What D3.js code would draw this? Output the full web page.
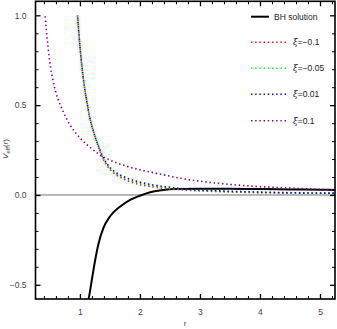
<!DOCTYPE html>
<html>
<head>
<meta charset="utf-8">
<script src="https://cdn.jsdelivr.net/npm/d3@7"></script>
<style>
  body { margin: 0; background: #fff; }
  text { font-family: "Liberation Sans", Arial, sans-serif; }
</style>
</head>
<body>
<div class="canvas"></div>
<script>
// data
const rBH = [1.13, 1.15, 1.195, 1.25, 1.305, 1.39, 1.5, 1.667, 1.83, 2.0, 2.17, 2.39, 2.61, 3.0, 3.5, 4.0, 4.5, 5.0, 5.25];
const vBH = [-0.6, -0.57, -0.48, -0.37, -0.278, -0.185, -0.12, -0.065, -0.028, -0.004, 0.015, 0.028, 0.033, 0.035, 0.034, 0.033, 0.031, 0.029, 0.028];

const rXi = [0.96, 0.983, 1.005, 1.033, 1.067, 1.11, 1.155, 1.22, 1.305, 1.39, 1.47, 1.58, 1.72, 1.97, 2.22, 2.5, 2.72, 3.3, 4.0, 4.6, 5.25];
const vRed   = [1.0, 0.9, 0.81, 0.715, 0.622, 0.53, 0.445, 0.36, 0.272, 0.2, 0.155, 0.118, 0.09, 0.06, 0.045, 0.034, 0.028, 0.019, 0.013, 0.011, 0.009];
const vGreen = [1.0, 0.9, 0.81, 0.715, 0.622, 0.53, 0.445, 0.36, 0.274, 0.203, 0.16, 0.124, 0.096, 0.067, 0.05, 0.038, 0.031, 0.021, 0.0145, 0.0115, 0.0095];
const vBlue  = [1.0, 0.9, 0.81, 0.715, 0.622, 0.53, 0.445, 0.36, 0.276, 0.207, 0.165, 0.13, 0.103, 0.074, 0.056, 0.043, 0.034, 0.023, 0.016, 0.012, 0.01];

const rPurple = [0.42, 0.44, 0.47, 0.5, 0.55, 0.6, 0.65, 0.7, 0.75, 0.83, 0.92, 1.0, 1.17, 1.33, 1.55, 1.75, 2.0, 2.33, 2.72, 3.28, 3.83, 4.39, 4.94, 5.25];
const vPurple = [1.0, 0.92, 0.82, 0.735, 0.64, 0.57, 0.52, 0.48, 0.443, 0.392, 0.35, 0.318, 0.265, 0.224, 0.187, 0.163, 0.14, 0.117, 0.09, 0.066, 0.05, 0.04, 0.032, 0.028];

const xTicks = [1, 2, 3, 4, 5];
const yTicks = [-0.5, 0, 0.5, 1.0];
const legendLabels = ['BH solution', '-0.1', '-0.05', '0.01', '0.1'];

const width = 337;
const height = 329;
const margin = { top: 1.3, right: 2, bottom: 30, left: 35.5 };
const graphWidth = width - margin.left - margin.right;
const graphHeight = height - margin.top - margin.bottom;

const svg = d3.select('.canvas')
  .append('svg')
  .attr('width', width)
  .attr('height', height);

const graph = svg.append('g')
  .attr('transform', `translate(${margin.left}, ${margin.top})`);

// scales
const x = d3.scaleLinear().domain([0.26, 5.25]).range([0, graphWidth]);
const y = d3.scaleLinear().domain([1.078, -0.579]).range([0, graphHeight]);

svg.append('defs').append('clipPath')
  .attr('id', 'clip')
  .append('rect')
  .attr('width', graphWidth)
  .attr('height', graphHeight);

// zero line
graph.append('line')
  .attr('x1', 0).attr('x2', graphWidth)
  .attr('y1', y(0)).attr('y2', y(0))
  .attr('stroke', '#333')
  .attr('stroke-width', 0.7);

const line = d3.line()
  .curve(d3.curveMonotoneX)
  .x(d => x(d[0]))
  .y(d => y(d[1]));

const series = [
  { r: rXi, v: vRed, color: '#ff0000' },
  { r: rXi, v: vGreen, color: '#00ff00' },
  { r: rXi, v: vBlue, color: '#0000ff' },
  { r: rPurple, v: vPurple, color: '#800080' }
];

const curves = graph.append('g').attr('clip-path', 'url(#clip)');

curves.append('path')
  .datum(d3.zip(rBH, vBH))
  .attr('fill', 'none')
  .attr('stroke', '#000')
  .attr('stroke-width', 2)
  .attr('d', line);

series.forEach((s, i) => {
  curves.append('path')
    .datum(d3.zip(s.r, s.v))
    .attr('fill', 'none')
    .attr('stroke', s.color)
    .attr('stroke-width', 1.6)
    .attr('stroke-dasharray', '1.4,2.8')
    .attr('stroke-dashoffset', i * 1.1)
    .attr('d', line);
});

// axes (ticks point inward, like a frame)
const minorX = d3.range(0.4, 5.25, 0.2).filter(v => Math.abs(v - Math.round(v)) > 0.01);
const minorY = d3.range(-0.5, 1.08, 0.1).filter(v => Math.abs(v * 2 - Math.round(v * 2)) > 0.01);

const fmtY = d3.format('.1f');

const styleAxis = (g, w) => {
  g.select('.domain').remove();
  g.selectAll('line').attr('stroke', '#000').attr('stroke-width', w);
  g.selectAll('text')
    .attr('fill', '#444')
    .attr('font-size', 8.5);
};

graph.append('g')
  .attr('transform', `translate(0, ${graphHeight})`)
  .call(d3.axisBottom(x).tickValues(xTicks).tickSize(-5).tickPadding(10).tickFormat(d3.format('d')))
  .call(g => styleAxis(g, 1.3));
graph.append('g')
  .attr('transform', `translate(0, ${graphHeight})`)
  .call(d3.axisBottom(x).tickValues(minorX).tickSize(-3).tickFormat(''))
  .call(g => styleAxis(g, 1));
graph.append('g')
  .call(d3.axisTop(x).tickValues(xTicks).tickSize(-5).tickFormat(''))
  .call(g => styleAxis(g, 1.3));
graph.append('g')
  .call(d3.axisTop(x).tickValues(minorX).tickSize(-3).tickFormat(''))
  .call(g => styleAxis(g, 1));

graph.append('g')
  .call(d3.axisLeft(y).tickValues(yTicks).tickSize(-5).tickPadding(9).tickFormat(fmtY))
  .call(g => styleAxis(g, 1.3));
graph.append('g')
  .call(d3.axisLeft(y).tickValues(minorY).tickSize(-3).tickFormat(''))
  .call(g => styleAxis(g, 1));
graph.append('g')
  .attr('transform', `translate(${graphWidth}, 0)`)
  .call(d3.axisRight(y).tickValues(yTicks).tickSize(-5).tickFormat(''))
  .call(g => styleAxis(g, 1.3));
graph.append('g')
  .attr('transform', `translate(${graphWidth}, 0)`)
  .call(d3.axisRight(y).tickValues(minorY).tickSize(-3).tickFormat(''))
  .call(g => styleAxis(g, 1));

// frame
graph.append('rect')
  .attr('width', graphWidth)
  .attr('height', graphHeight)
  .attr('fill', 'none')
  .attr('stroke', '#000')
  .attr('stroke-width', 1.6);

// axis labels
svg.append('text')
  .attr('x', 185)
  .attr('y', 326)
  .attr('text-anchor', 'middle')
  .attr('font-size', 8)
  .attr('fill', '#444')
  .text('r');

const yLabel = svg.append('text')
  .attr('transform', 'translate(8, 149) rotate(-90)')
  .attr('text-anchor', 'middle')
  .attr('font-size', 8)
  .attr('fill', '#444');
yLabel.append('tspan').attr('font-style', 'italic').text('V');
yLabel.append('tspan').attr('font-size', 6).attr('dy', 2).text('eff');
yLabel.append('tspan').attr('dy', -2).text('(');
yLabel.append('tspan').attr('font-style', 'italic').text('r');
yLabel.append('tspan').text(')');

// legend
const legend = svg.append('g');
const legendY = [16.7, 42.3, 68.3, 94.3, 120.7];

legend.append('line')
  .attr('x1', 251).attr('x2', 269)
  .attr('y1', legendY[0]).attr('y2', legendY[0])
  .attr('stroke', '#000')
  .attr('stroke-width', 2);
legend.append('text')
  .attr('x', 274)
  .attr('y', legendY[0] + 3)
  .attr('font-size', 8.5)
  .attr('fill', '#222')
  .text(legendLabels[0]);

series.forEach((s, i) => {
  const ly = legendY[i + 1];
  legend.append('line')
    .attr('x1', 251).attr('x2', 286)
    .attr('y1', ly).attr('y2', ly)
    .attr('stroke', s.color)
    .attr('stroke-width', 1.6)
    .attr('stroke-dasharray', '1.4,2.8');
  const t = legend.append('text')
    .attr('x', 293)
    .attr('y', ly + 3)
    .attr('font-size', 8.5)
    .attr('fill', '#222');
  t.append('tspan').attr('font-style', 'italic').attr('font-family', '"DejaVu Serif", serif').text('ξ');
  t.append('tspan').text('=' + legendLabels[i + 1].replace('-', '\u2212'));
});
</script>
</body>
</html>
